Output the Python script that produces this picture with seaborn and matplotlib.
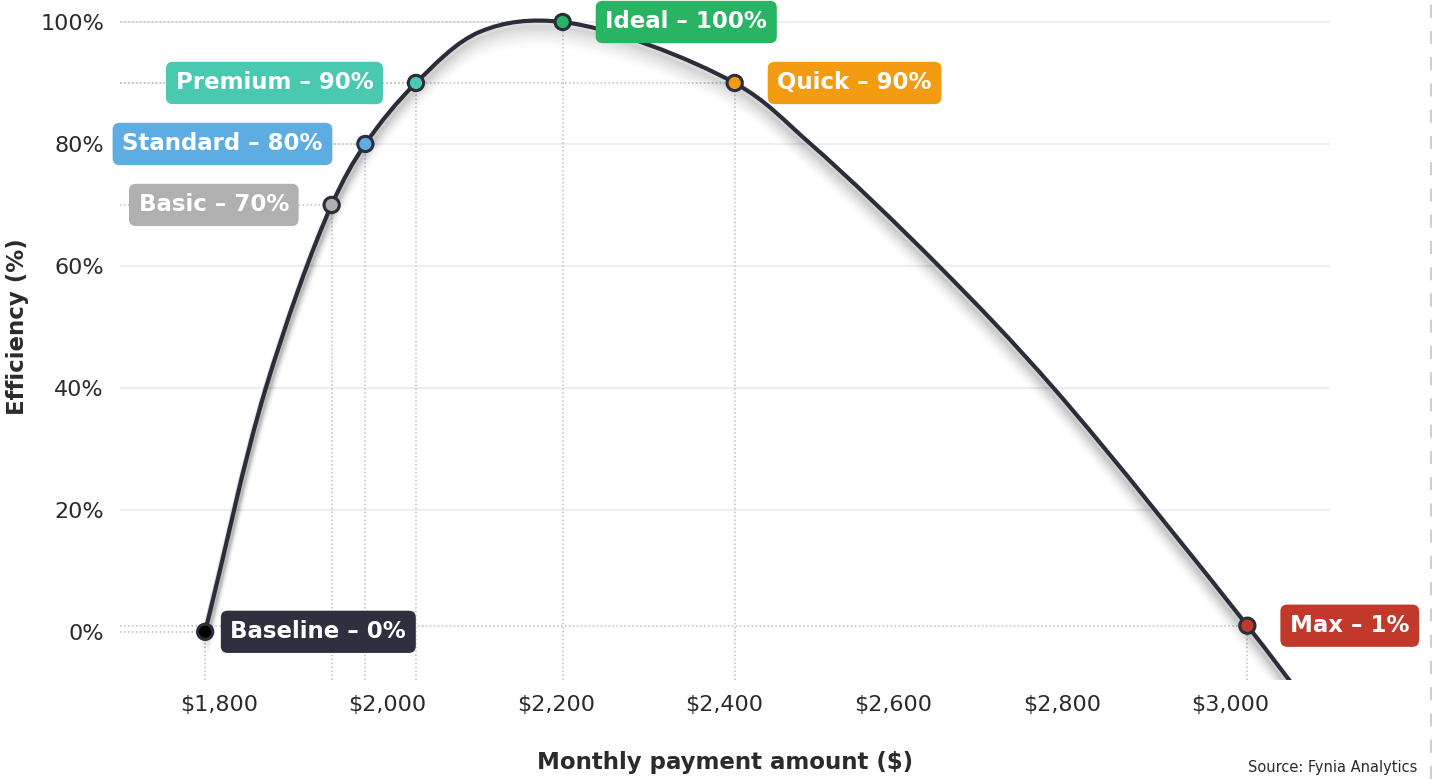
import numpy as np
import pandas as pd
import matplotlib
matplotlib.use("Agg")
import matplotlib.pyplot as plt
import seaborn as sns
from matplotlib.path import Path
from matplotlib.patches import PathPatch
from matplotlib.transforms import ScaledTranslation
from matplotlib.lines import Line2D

# ---- plan data -------------------------------------------------------------
plan_names = ["Baseline", "Basic", "Standard", "Premium", "Ideal", "Quick", "Max"]
plan_payment = [1784, 1934, 1974, 2034, 2208, 2412, 3020]
plan_efficiency = [0, 70, 80, 90, 100, 90, 1]
plan_colors = ["#2e3040", "#b0b0b0", "#5dade2", "#48c9b0", "#28b463", "#f39c12", "#c0392b"]
marker_faces = ["#000000", "#b0b0b0", "#5dade2", "#48c9b0", "#28b463", "#f39c12", "#c0392b"]
label_side = ["right", "left", "left", "left", "right", "right", "right"]

# extra points along the efficiency curve between the plans
shape_payment = [1856, 2110, 2502, 2654, 2790, 3085]
shape_efficiency = [40, 98.4, 80, 60, 40, -10.7]

x_ticks = [1800, 2000, 2200, 2400, 2600, 2800, 3000]
y_ticks = [0, 20, 40, 60, 80, 100]

INK = "#2b2d3b"
TEXT = "#2b2b2b"
GUIDE = "#b4c0cc"

sns.set_theme(style="white")
plt.rcParams["font.family"] = ["DejaVu Sans"]

plans = pd.DataFrame({"plan": plan_names, "payment": plan_payment,
                      "efficiency": plan_efficiency})
curve = pd.concat([
    plans[["payment", "efficiency"]],
    pd.DataFrame({"payment": shape_payment, "efficiency": shape_efficiency}),
]).sort_values("payment").reset_index(drop=True)

fig = plt.figure(figsize=(14.32, 7.79), dpi=100)
ax = fig.add_axes([0.0838, 0.1271, 0.84497, 0.86033])
xmin, xmax = 1683, 3118
ymin, ymax = -7.9, 102
ax.set_xlim(xmin, xmax)
ax.set_ylim(ymin, ymax)

# light horizontal grid (no line at 0%)
for v in y_ticks[1:]:
    ax.axhline(v, color="#eceef1", lw=1.5, zorder=0)


def smooth_path(x, y, sx, sy, alpha=0.5):
    """Centripetal Catmull-Rom spline through the points as Bezier segments.

    sx, sy rescale the data so that distances are measured in screen units.
    """
    pts = np.column_stack([np.asarray(x, float) * sx, np.asarray(y, float) * sy])
    ext = np.vstack([2 * pts[0] - pts[1], pts, 2 * pts[-1] - pts[-2]])
    d = np.linalg.norm(np.diff(ext, axis=0), axis=1) ** alpha
    t = np.concatenate([[0], np.cumsum(d)])
    verts = [pts[0]]
    codes = [Path.MOVETO]
    for i in range(1, len(ext) - 2):
        p0, p1, p2, p3 = ext[i - 1], ext[i], ext[i + 1], ext[i + 2]
        t0, t1, t2, t3 = t[i - 1], t[i], t[i + 1], t[i + 2]
        m1 = (p1 - p0) / (t1 - t0) - (p2 - p0) / (t2 - t0) + (p2 - p1) / (t2 - t1)
        m2 = (p2 - p1) / (t2 - t1) - (p3 - p1) / (t3 - t1) + (p3 - p2) / (t3 - t2)
        h = t2 - t1
        verts += [p1 + m1 * h / 3, p2 - m2 * h / 3, p2]
        codes += [Path.CURVE4] * 3
    verts = np.array(verts) / np.array([sx, sy])
    return Path(verts, codes)


# one payment dollar and one efficiency point expressed in pixels
px_per_x = 1210 / (xmax - xmin)
px_per_y = 670.2 / (ymax - ymin)
path = smooth_path(curve["payment"], curve["efficiency"], px_per_x, px_per_y)

# soft drop shadow under the curve
offsets = np.arange(2, 28, 1.0)
for off in offsets:
    w = (1 - off / 29) ** 1.6
    shadow = PathPatch(path, fill=False, ec="#000000", lw=6,
                       alpha=0.028 * w,
                       transform=ax.transData + ScaledTranslation(0, -off / 100, fig.dpi_scale_trans),
                       zorder=1.5, capstyle="butt")
    ax.add_patch(shadow)

ax.add_patch(PathPatch(path, fill=False, ec=INK, lw=3, zorder=3, capstyle="butt"))

# dotted guides from each plan to the axes
for px, py in zip(plan_payment, plan_efficiency):
    ax.plot([xmin, px], [py, py], ls=(0, (1, 1.6)), color=GUIDE, lw=1.1, zorder=1)
    ax.plot([px, px], [ymin, py], ls=(0, (1, 1.6)), color=GUIDE, lw=1.1, zorder=1)

sns.scatterplot(data=plans, x="payment", y="efficiency", hue="plan",
                palette=dict(zip(plan_names, marker_faces)), s=121,
                edgecolor=INK, linewidth=2.2, legend=False, zorder=5, ax=ax)

# value badges
for name, px, py, col, side in zip(plan_names, plan_payment, plan_efficiency,
                                   plan_colors, label_side):
    gap = 18.2 if name == "Baseline" else 30.7
    dx = gap if side == "right" else -gap
    ax.annotate(f"{name} – {py:g}%", xy=(px, py), xytext=(dx, 0),
                textcoords="offset points", ha="left" if side == "right" else "right",
                va="center", color="white", fontsize=16.5, fontweight="bold",
                bbox=dict(boxstyle="round,pad=0.42,rounding_size=0.3", fc=col, ec="none"),
                zorder=6, annotation_clip=False)

ax.set_xticks(x_ticks)
ax.set_xticklabels([f"${v:,}" for v in x_ticks])
ax.set_yticks(y_ticks)
ax.set_yticklabels([f"{v}%" for v in y_ticks])
ax.tick_params(axis="both", length=0, labelsize=16, colors=TEXT)
ax.tick_params(axis="x", pad=11)
ax.tick_params(axis="y", pad=11.5)

ax.set_xlabel("Monthly payment amount ($)", fontsize=16.5, fontweight="bold",
              color=TEXT, va="center")
ax.xaxis.set_label_coords(0.5, -0.1238)
ax.set_ylabel("Efficiency (%)", fontsize=16.5, fontweight="bold", color=TEXT,
              va="center")
ax.yaxis.set_label_coords(-0.0843, 0.528)

for s in ax.spines.values():
    s.set_visible(False)

fig.text(0.9895, 0.0154, "Source: Fynia Analytics", ha="right", va="center",
         fontsize=10.5, color=TEXT)
fig.add_artist(Line2D([0.9993, 0.9993], [0, 1], transform=fig.transFigure,
                      color="#cfcfcf", lw=1.5, ls=(0, (6.3, 6.3))))

fig.savefig("out.png", dpi=100)
